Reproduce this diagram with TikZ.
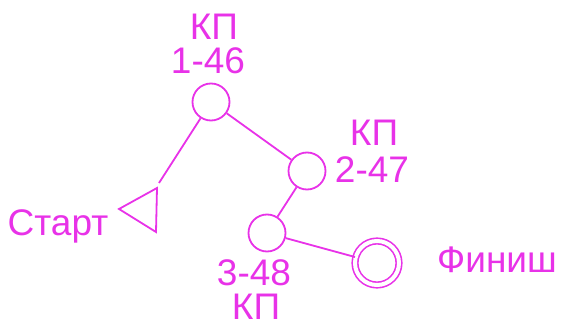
\documentclass[tikz,border=0pt]{standalone}
\usepackage{fontspec}
\setmainfont{Liberation Sans}
\definecolor{mag}{RGB}{232,50,232}
\begin{document}
\begin{tikzpicture}[x=1pt,y=-1pt,
  lbl/.style={text=mag,font=\fontsize{37}{37}\selectfont,inner sep=0pt,anchor=center},
  cp/.style={draw=mag,line width=1.8pt,circle,minimum size=37pt,inner sep=0pt},
  link/.style={draw=mag,line width=1.8pt}]
\useasboundingbox (0,0) rectangle (562,323);
\node[cp] (c1) at (211,102) {};
\node[cp] (c2) at (307,171) {};
\node[cp] (c3) at (267,233) {};
\node[cp,double=white,double distance=4pt,line width=1.6pt,minimum size=44pt] (fin) at (377,263) {};
\coordinate (ta) at (119,209);
\coordinate (tb) at (157,188);
\coordinate (tc) at (156,232);
\draw[link,line join=miter] (ta) -- (tb) -- (tc) -- cycle;
\coordinate (tt) at (159,183);
\draw[link] (c1) -- (tt);
\draw[link] (c1) -- (c2);
\draw[link] (c2) -- (c3);
\draw[link] (c3) -- (fin);
\node[lbl] (k1) at (214,27) {КП};
\node[lbl] (n1) at (208,61) {1-46};
\node[lbl] (k2) at (374,133) {КП};
\node[lbl] (n2) at (372,170) {2-47};
\node[lbl,anchor=base] (st) at (58,235) {Старт};
\node[lbl] (n3) at (254,273) {3-48};
\node[lbl] (k3) at (256,307) {КП};
\node[lbl] (fi) at (497,260) {Финиш};
\end{tikzpicture}
\end{document}
